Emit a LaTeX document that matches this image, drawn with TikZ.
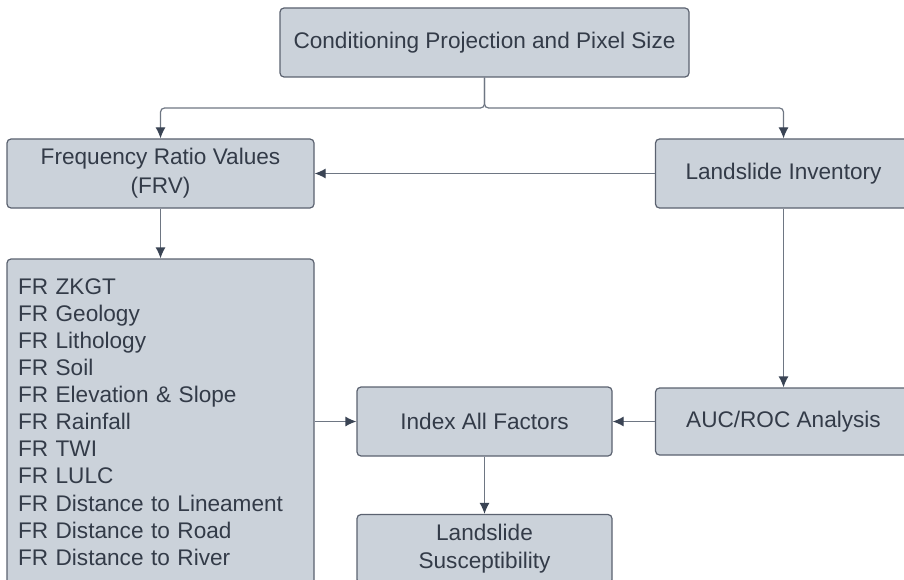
\documentclass[tikz,border=0pt]{standalone}
\usepackage{fontspec}
\setmainfont{Liberation Sans}
\usetikzlibrary{arrows.meta}
\definecolor{boxfill}{HTML}{CBD2DA}
\definecolor{boxline}{HTML}{5B6270}
\definecolor{linkline}{HTML}{6E7683}
\definecolor{tipdark}{HTML}{3A4454}
\definecolor{textdark}{HTML}{333B48}

\begin{document}
\begin{tikzpicture}[x=1pt,y=-1pt,
  box/.style={draw=boxline,fill=boxfill,line width=1.2pt,rounded corners=4pt,
    inner sep=0pt,text=textdark,align=center,
    font=\fontsize{22.6}{29}\selectfont},
  link/.style={draw=linkline,line width=1.2pt,
    -{Latex[length=11pt,width=10pt,color=tipdark]}}]
  \useasboundingbox (0,0) rectangle (904,580);
  \clip (0,0) rectangle (904,580);

  \node[box,minimum width=409pt,minimum height=69pt] (proj) at (484.5,42.5)
    {Conditioning Projection and Pixel Size};
  \node[box,minimum width=307pt,minimum height=69pt] (frv) at (160.5,173.5)
    {Frequency Ratio Values\\(FRV)};
  \node[box,minimum width=256pt,minimum height=69pt] (inv) at (783.5,173.5)
    {Landslide Inventory};
  \node[box,minimum width=307pt,minimum height=326pt,text width=285pt,align=left,
    font=\fontsize{22.6}{27.1}\selectfont] (frlist) at (160.5,422)
    {FR ZKGT\\FR Geology\\FR Lithology\\FR Soil\\FR Elevation \& Slope\\
     FR Rainfall\\FR TWI\\FR LULC\\FR Distance to Lineament\\
     FR Distance to Road\\FR Distance to River};
  \node[box,minimum width=255pt,minimum height=69pt] (index) at (484.5,421.5)
    {Index All Factors};
  \node[box,minimum width=256pt,minimum height=67pt] (auc) at (783.5,421.5)
    {AUC/ROC Analysis};
  \node[box,minimum width=255pt,minimum height=69pt,
    font=\fontsize{22.6}{28}\selectfont] (susc) at (484.5,549)
    {Landslide\\Susceptibility};

  % connectors
  \coordinate (split) at (484.5,108);
  \draw[link,rounded corners=4pt] (proj.south) -- (split) -| (frv.north);
  \draw[link,rounded corners=4pt] (proj.south) -- (split) -| (inv.north);
  \draw[link] (inv.west) -- (frv.east);
  \draw[link] (frv.south) -- (frlist.north);
  \draw[link] (inv.south) -- (auc.north);
  \draw[link] (frlist.east |- index.west) -- (index.west);
  \draw[link] (auc.west) -- (index.east);
  \draw[link] (index.south) -- (susc.north);
\end{tikzpicture}
\end{document}
